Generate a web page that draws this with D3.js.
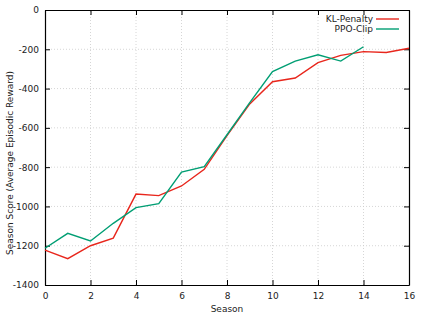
<!DOCTYPE html>
<html>
<head>
<meta charset="utf-8">
<script src="https://cdn.jsdelivr.net/npm/d3@7"></script>
<style>
body { margin: 0; background: #fff; }
text { font-family: "DejaVu Sans", sans-serif; font-size: 9px; fill: #222; }
</style>
</head>
<body>
<script>
// values
var seasons = [0, 1, 2, 3, 4, 5, 6, 7, 8, 9, 10, 11, 12, 13, 14, 15, 16];
var klPenalty = [-1222, -1266, -1200, -1161, -937, -945, -896, -811, -640, -478, -365, -346, -268, -231, -212, -216, -195];
var ppoClip = [-1213, -1137, -1176, -1086, -1006, -986, -825, -798, -635, -472, -314, -260, -228, -260, -187];
var xTicks = [0, 2, 4, 6, 8, 10, 12, 14, 16];
var yTicks = [0, -200, -400, -600, -800, -1000, -1200, -1400];

var width = 423, height = 317;
var margin = {top: 10, right: 14, bottom: 32, left: 45};
var font = "'DejaVu Sans', sans-serif";

var svg = d3.select("body")
.append("svg")
    .attr("width", width)
    .attr("height", height);

var x = d3.scaleLinear().domain([0, 16]).range([margin.left, width - margin.right]);
var y = d3.scaleLinear().domain([-1400, 0]).range([height - margin.bottom, margin.top]);

// dotted grid
svg.append("g").selectAll("line").data(xTicks.slice(1, -1)).enter().append("line")
    .attr("x1", d => x(d)).attr("x2", d => x(d))
    .attr("y1", y(-1400)).attr("y2", y(0))
    .attr("stroke", "#ccc").attr("stroke-width", 0.8).attr("stroke-dasharray", "1,2");
svg.append("g").selectAll("line").data(yTicks.slice(1, -1)).enter().append("line")
    .attr("x1", x(0)).attr("x2", x(16))
    .attr("y1", d => y(d)).attr("y2", d => y(d))
    .attr("stroke", "#ccc").attr("stroke-width", 0.8).attr("stroke-dasharray", "1,2");

// axes with inward ticks on all sides
var fmt = d => String(d);
svg.append("g").attr("transform", "translate(0," + y(-1400) + ")")
    .call(d3.axisBottom(x).tickValues(xTicks).tickSizeInner(-5).tickSizeOuter(0).tickPadding(8).tickFormat(fmt));
svg.append("g").attr("transform", "translate(0," + y(0) + ")")
    .call(d3.axisTop(x).tickValues(xTicks).tickSizeInner(-5).tickSizeOuter(0).tickFormat(""));
svg.append("g").attr("transform", "translate(" + x(0) + ",0)")
    .call(d3.axisLeft(y).tickValues(yTicks).tickSizeInner(-5).tickSizeOuter(0).tickPadding(6).tickFormat(fmt));
svg.append("g").attr("transform", "translate(" + x(16) + ",0)")
    .call(d3.axisRight(y).tickValues(yTicks).tickSizeInner(-5).tickSizeOuter(0).tickFormat(""));
svg.selectAll(".domain").attr("stroke", "#000").attr("stroke-width", 1.2);
svg.selectAll(".tick line").attr("stroke", "#000");
svg.selectAll(".tick text").style("font-family", font).style("font-size", "9px").attr("fill", "#222");

// lines
var line = d3.line().x((d, i) => x(seasons[i])).y(d => y(d));
svg.append("path").datum(klPenalty)
    .attr("d", line).attr("fill", "none").attr("stroke", "#e8261c").attr("stroke-width", 1.4);
svg.append("path").datum(ppoClip)
    .attr("d", line).attr("fill", "none").attr("stroke", "#009e73").attr("stroke-width", 1.4);

// legend
var legend = [["KL-Penalty", "#e8261c"], ["PPO-Clip", "#009e73"]];
legend.forEach(function(l, i) {
    svg.append("text").attr("x", 373).attr("y", 22 + i * 10).attr("text-anchor", "end").text(l[0]);
    svg.append("line").attr("x1", 376).attr("x2", 399)
        .attr("y1", 19 + i * 10).attr("y2", 19 + i * 10)
        .attr("stroke", l[1]).attr("stroke-width", 1.4);
});

// titles
svg.append("text").attr("x", x(8)).attr("y", 312).attr("text-anchor", "middle").text("Season");
svg.append("text").attr("transform", "translate(13,163) rotate(-90)")
    .attr("text-anchor", "middle").text("Season Score (Average Episodic Reward)");
</script>
</body>
</html>
